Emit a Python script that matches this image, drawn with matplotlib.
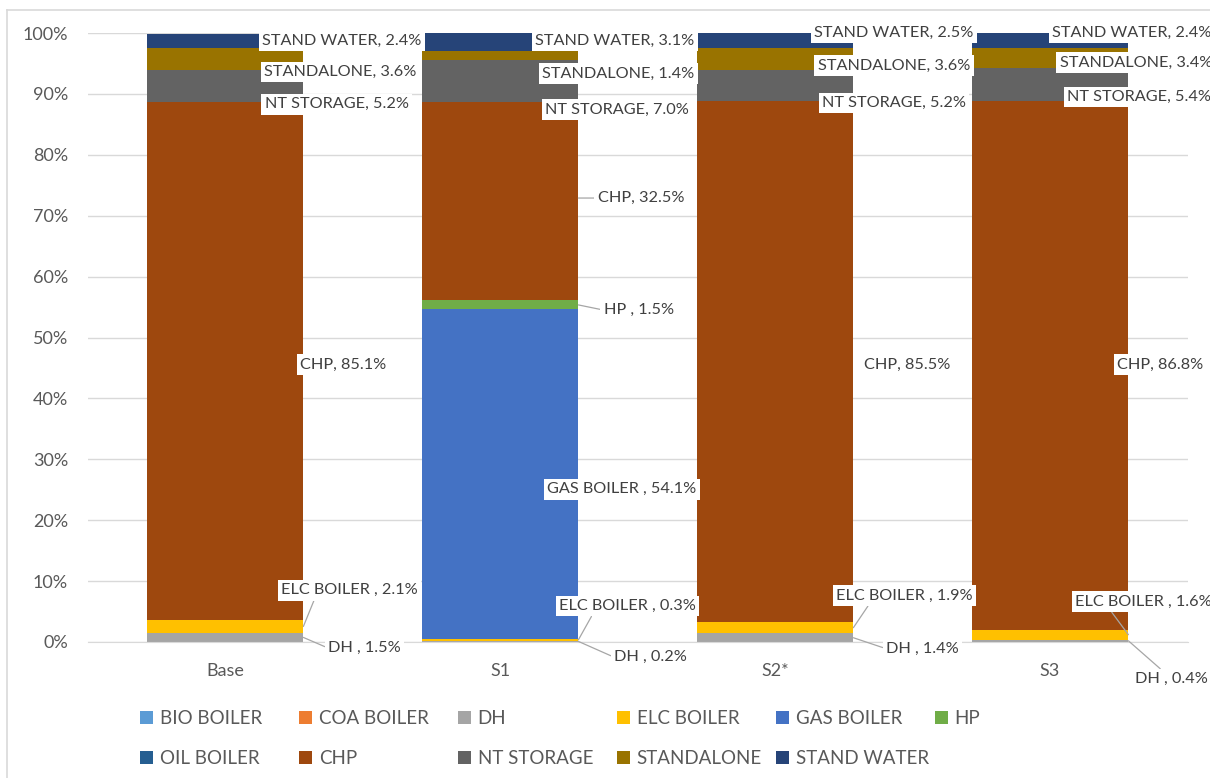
import matplotlib
matplotlib.use("Agg")
import matplotlib.pyplot as plt
from matplotlib.lines import Line2D
import numpy as np

plt.rcParams['font.family'] = ['Lato', 'DejaVu Sans']

categories = ["Base", "S1", "S2*", "S3"]
series_names = ["BIO BOILER", "COA BOILER", "DH", "ELC BOILER", "GAS BOILER", "HP",
                "OIL BOILER", "CHP", "NT STORAGE", "STANDALONE", "STAND WATER"]
bio_boiler = [0.0, 0.0, 0.0, 0.0]
coa_boiler = [0.0, 0.0, 0.0, 0.0]
dh = [1.5, 0.2, 1.4, 0.4]
elc_boiler = [2.1, 0.3, 1.9, 1.6]
gas_boiler = [0.0, 54.1, 0.0, 0.0]
hp = [0.0, 1.5, 0.0, 0.0]
oil_boiler = [0.0, 0.0, 0.0, 0.0]
chp = [85.1, 32.5, 85.5, 86.8]
nt_storage = [5.2, 7.0, 5.2, 5.4]
standalone = [3.6, 1.4, 3.6, 3.4]
stand_water = [2.4, 3.1, 2.5, 2.4]
y_ticks = [0, 10, 20, 30, 40, 50, 60, 70, 80, 90, 100]

values = [bio_boiler, coa_boiler, dh, elc_boiler, gas_boiler, hp,
          oil_boiler, chp, nt_storage, standalone, stand_water]
colors = ["#5B9BD5", "#ED7D31", "#A5A5A5", "#FFC000", "#4472C4", "#70AD47",
          "#255E91", "#9E480E", "#636363", "#997300", "#264478"]
label_names = {"DH": "DH ", "ELC BOILER": "ELC BOILER ", "GAS BOILER": "GAS BOILER ",
               "HP": "HP ", "CHP": "CHP", "NT STORAGE": "NT STORAGE",
               "STANDALONE": "STANDALONE", "STAND WATER": "STAND WATER"}

# label layout: (x offset of left edge from category centre, y position, leader relpos or None)
label_layout = {
    0: {"STAND WATER": (0.135, 98.7, None), "STANDALONE": (0.142, 93.6, None),
        "NT STORAGE": (0.145, 88.3, None), "CHP": (0.273, 45.5, None),
        "ELC BOILER": (0.204, 8.5, (0.25, 0)), "DH": (0.375, -1.0, (0, 0.5))},
    1: {"STAND WATER": (0.127, 98.7, None), "STANDALONE": (0.153, 93.3, None),
        "NT STORAGE": (0.164, 87.4, None), "CHP": (0.355, 72.9, (0, 0.5)),
        "HP": (0.377, 54.5, (0, 0.5)), "GAS BOILER": (0.171, 25.1, None),
        "ELC BOILER": (0.215, 5.9, (0.25, 0)), "DH": (0.415, -2.5, (0, 0.5))},
    2: {"STAND WATER": (0.142, 100.0, None), "STANDALONE": (0.156, 94.6, None),
        "NT STORAGE": (0.171, 88.5, None), "CHP": (0.324, 45.5, None),
        "ELC BOILER": (0.222, 7.6, (0.25, 0)), "DH": (0.404, -1.1, (0, 0.5))},
    3: {"STAND WATER": (0.007, 100.0, None), "STANDALONE": (0.036, 95.1, None),
        "NT STORAGE": (0.062, 89.5, None), "CHP": (0.244, 45.5, None),
        "ELC BOILER": (0.091, 6.6, (0.25, 0)), "DH": (0.309, -6.1, (0.4, 1))},
}

fig = plt.figure(figsize=(12.1, 7.78), dpi=100)
ax = fig.add_axes([87.5 / 1210, 1 - 642 / 778, 1100 / 1210, 609 / 778])

# chart-area border (left and top edges visible)
fig.add_artist(Line2D([7 / 1210, 7 / 1210], [0, 1 - 10 / 778], transform=fig.transFigure,
                      color="#D9D9D9", lw=1.2))
fig.add_artist(Line2D([7 / 1210, 1], [1 - 10 / 778, 1 - 10 / 778], transform=fig.transFigure,
                      color="#D9D9D9", lw=1.2))

x = np.arange(len(categories))
width = 0.57
bottom = np.zeros(len(categories))
handles = []
for name, vals, col in zip(series_names, values, colors):
    v = np.array(vals)
    h = ax.bar(x, v, width, bottom=bottom, color=col, zorder=2, label=name)
    handles.append(h)
    for i in range(len(categories)):
        lay = label_layout[i].get(name)
        if lay is None or v[i] == 0:
            continue
        txt = f"{label_names[name]}, {v[i]:.1f}%"
        bb = dict(fc="white", ec="none", pad=2.5)
        lo, hi = bottom[i], bottom[i] + v[i]
        ly = lay[1]
        anchor_y = ly if lo <= ly <= hi else (lo + hi) / 2
        if lay[2] is not None:
            ax.annotate(txt, xy=(x[i] + width / 2, anchor_y), xytext=(x[i] + lay[0], ly),
                        fontsize=11.7, color="#404040", va="center", ha="left",
                        bbox=bb, zorder=4, annotation_clip=False,
                        arrowprops=dict(arrowstyle="-", color="#A6A6A6", lw=0.9,
                                        shrinkA=0, shrinkB=0, relpos=lay[2]))
        else:
            ax.text(x[i] + lay[0], ly, txt, fontsize=11.7, color="#404040",
                    va="center", ha="left", bbox=bb, zorder=4, clip_on=False)
    bottom += v

ax.set_xlim(-0.5, 3.5)
ax.set_ylim(0, 100)
ax.set_yticks(y_ticks)
ax.set_yticklabels([f"{t}%" for t in y_ticks], fontsize=13, color="#595959")
ax.set_xticks(x)
ax.set_xticklabels(categories, fontsize=13, color="#595959")
ax.tick_params(axis="y", length=0, pad=14)
ax.tick_params(axis="x", length=0, pad=15)
ax.yaxis.grid(True, color="#D9D9D9", lw=1, zorder=0)
ax.set_axisbelow(True)
for s in ["top", "right", "left"]:
    ax.spines[s].set_visible(False)
ax.spines["bottom"].set_color("#D9D9D9")

# legend, one per column (evenly spaced columns)
col_x = [140 + 159 * k for k in range(6)]
cols = [[0, 6], [1, 7], [2, 8], [3, 9], [4, 10], [5]]
for cx, idxs in zip(col_x, cols):
    leg = fig.legend([handles[k] for k in idxs], [series_names[k] for k in idxs],
                     loc="upper left", bbox_to_anchor=(cx / 1210, 1 - 710 / 778),
                     frameon=False, fontsize=13.5, handlelength=0.7, handleheight=0.7,
                     handletextpad=0.35, labelspacing=1.25, borderpad=0, borderaxespad=0)
    for t in leg.get_texts():
        t.set_color("#595959")

fig.savefig("out.png", dpi=100)
